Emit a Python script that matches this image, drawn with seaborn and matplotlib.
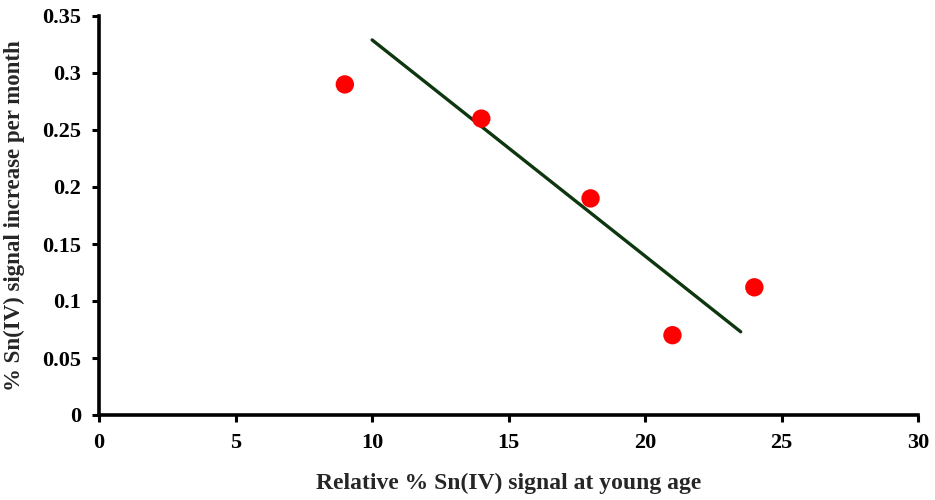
import matplotlib
matplotlib.use("Agg")
import matplotlib.pyplot as plt
import seaborn as sns
import pandas as pd

# Data
young_signal = [9, 14, 18, 21, 24]
increase_per_month = [0.29, 0.26, 0.19, 0.07, 0.112]
trend_x = [10, 23.5]
trend_y = [0.329, 0.073]
x_ticks = [0, 5, 10, 15, 20, 25, 30]
y_ticks = [0, 0.05, 0.1, 0.15, 0.2, 0.25, 0.3, 0.35]
y_tick_labels = ["0", "0.05", "0.1", "0.15", "0.2", "0.25", "0.3", "0.35"]

sns.set_style("ticks")
plt.rcParams["font.family"] = ["Liberation Serif", "DejaVu Serif"]
plt.rcParams["font.weight"] = "bold"

df = pd.DataFrame({"x": young_signal, "y": increase_per_month})
tdf = pd.DataFrame({"x": trend_x, "y": trend_y})

fig = plt.figure(figsize=(9.35, 5.0), dpi=100)
ax = fig.add_axes([0.106, 0.17, 0.876, 0.798])

sns.lineplot(data=tdf, x="x", y="y", ax=ax, color="#0f370f", linewidth=2.4)
sns.scatterplot(data=df, x="x", y="y", ax=ax, color="#ff0000", s=175,
                edgecolor="none", zorder=3)

ax.set_xlim(0, 30)
ax.set_ylim(0, 0.35)
ax.set_xticks(x_ticks)
ax.set_xticklabels([str(v) for v in x_ticks])
ax.set_yticks(y_ticks)
ax.set_yticklabels(y_tick_labels)

for s in ["top", "right"]:
    ax.spines[s].set_visible(False)
for s in ["left", "bottom"]:
    ax.spines[s].set_linewidth(2.6)
    ax.spines[s].set_color("black")

ax.tick_params(axis="both", direction="out", length=5, width=2.2,
               labelsize=16, colors="black", pad=8)
for lbl in ax.get_xticklabels() + ax.get_yticklabels():
    lbl.set_fontweight("bold")

ax.set_xlabel("Relative % Sn(IV) signal at young age", fontsize=17,
              fontweight="bold", labelpad=14)
ax.set_ylabel("% Sn(IV) signal increase per month", fontsize=16.5,
              fontweight="bold", labelpad=12)

fig.savefig("out.png", dpi=100)
